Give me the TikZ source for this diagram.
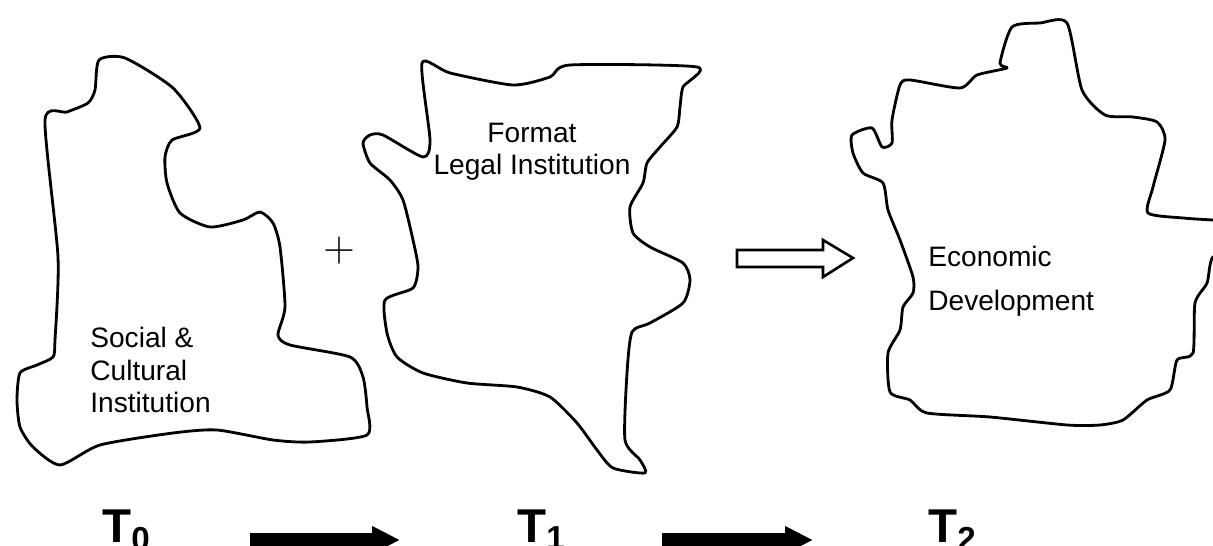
\documentclass[tikz,border=0pt]{standalone}
\usepackage{fontspec}
\setmainfont{Liberation Sans}
\usetikzlibrary{arrows.meta}

\tikzstyle{region} = [line width=1.6pt, line join=round]
\tikzstyle{regiontext} = [font=\fontsize{16}{18.5}\selectfont, inner sep=0pt]
\tikzstyle{timetext} = [font=\fontsize{27}{30}\selectfont\bfseries, inner sep=0pt]
\tikzstyle{timearrow} = [line width=8pt, -{Triangle[length=0.56cm, width=0.52cm]}]
\tikzstyle{hollow} = [line width=1.5pt, line join=miter]

\begin{document}
\begin{tikzpicture}[x=0.02cm, y=-0.02cm]
	\clip (0,0) rectangle (1213,546);
	% Draw regions
	\draw [region] plot [smooth cycle, tension=0.4] coordinates {
		(99,60) (125,58) (173,88) (200,128) (172,140) (165,157) (167,183) (180,213)
		(210,227) (243,220) (260,212) (273,223) (280,247) (285,307) (278,335) (290,345)
		(350,357) (363,377) (367,407) (367,435) (310,442) (273,440) (217,430) (173,433)
		(100,445) (60,465) (33,447) (20,427) (17,400) (20,373) (37,365) (53,357)
		(55,340) (58,257) (45,120) (67,112) (88,103) (95,90)};
	\draw [region] plot [smooth cycle, tension=0.4] coordinates {
		(422,63) (450,73) (513,85) (550,77) (570,65) (697,67) (683,87) (680,107)
		(677,127) (660,147) (647,163) (643,183) (630,207) (633,233) (650,247) (683,263)
		(690,280) (683,303) (650,323) (632,332) (627,373) (625,440) (640,460) (645,473)
		(613,468) (597,450) (577,423) (550,397) (517,387) (467,383) (423,373) (397,357)
		(387,333) (385,300) (413,288) (418,267) (413,240) (403,200) (390,180) (370,163)
		(363,143) (370,135) (383,135) (423,157) (430,140)};
	\draw [region] plot [smooth cycle, tension=0.4] coordinates {
		(1012,27) (1040,23) (1067,23) (1082,90) (1105,115) (1133,117) (1157,122) (1165,140)
		(1153,187) (1148,213) (1183,218) (1213,220) (1240,221) (1240,255) (1213,257) (1207,283)
		(1195,303) (1193,353) (1177,360) (1170,390) (1147,400) (1123,420) (1100,425) (1067,425)
		(990,417) (927,413) (910,400) (890,392) (888,353) (900,330) (903,307) (913,293)
		(913,277) (900,240) (888,210) (883,183) (863,173) (853,153) (852,135) (872,128)
		(882,147) (892,143) (892,120) (900,85) (910,80) (960,88) (977,75) (1007,68) (1000,63)};
	% Place nodes
	\node [regiontext, anchor=west, align=left] (social) at (90,370) {Social \&\\Cultural\\Institution};
	\node [regiontext, align=center] (legal) at (532,152) {Format\\Legal Institution};
	\node [regiontext, anchor=west, align=left, font=\fontsize{16}{25}\selectfont] (economic) at (928,281) {Economic\\Development};
	\node [font=\fontsize{27}{30}\selectfont, inner sep=0pt] (plus) at (339,251) {$+$};
	\node [timetext, anchor=base west] (t0) at (102,542) {T\textsubscript{0}};
	\node [timetext, anchor=base west] (t1) at (517,542) {T\textsubscript{1}};
	\node [timetext, anchor=base west] (t2) at (928,542) {T\textsubscript{2}};
	\coordinate (a1s) at (250,540);
	\coordinate (a1e) at (400,540);
	\coordinate (a2s) at (662,540);
	\coordinate (a2e) at (813,540);
	% Draw arrows
	\draw [hollow] (737,250) -- (823,250) -- (823,240) -- (853,258) -- (823,277) -- (823,267) -- (737,267) -- cycle;
	\draw [timearrow] (a1s) -- (a1e);
	\draw [timearrow] (a2s) -- (a2e);
\end{tikzpicture}
\end{document}
